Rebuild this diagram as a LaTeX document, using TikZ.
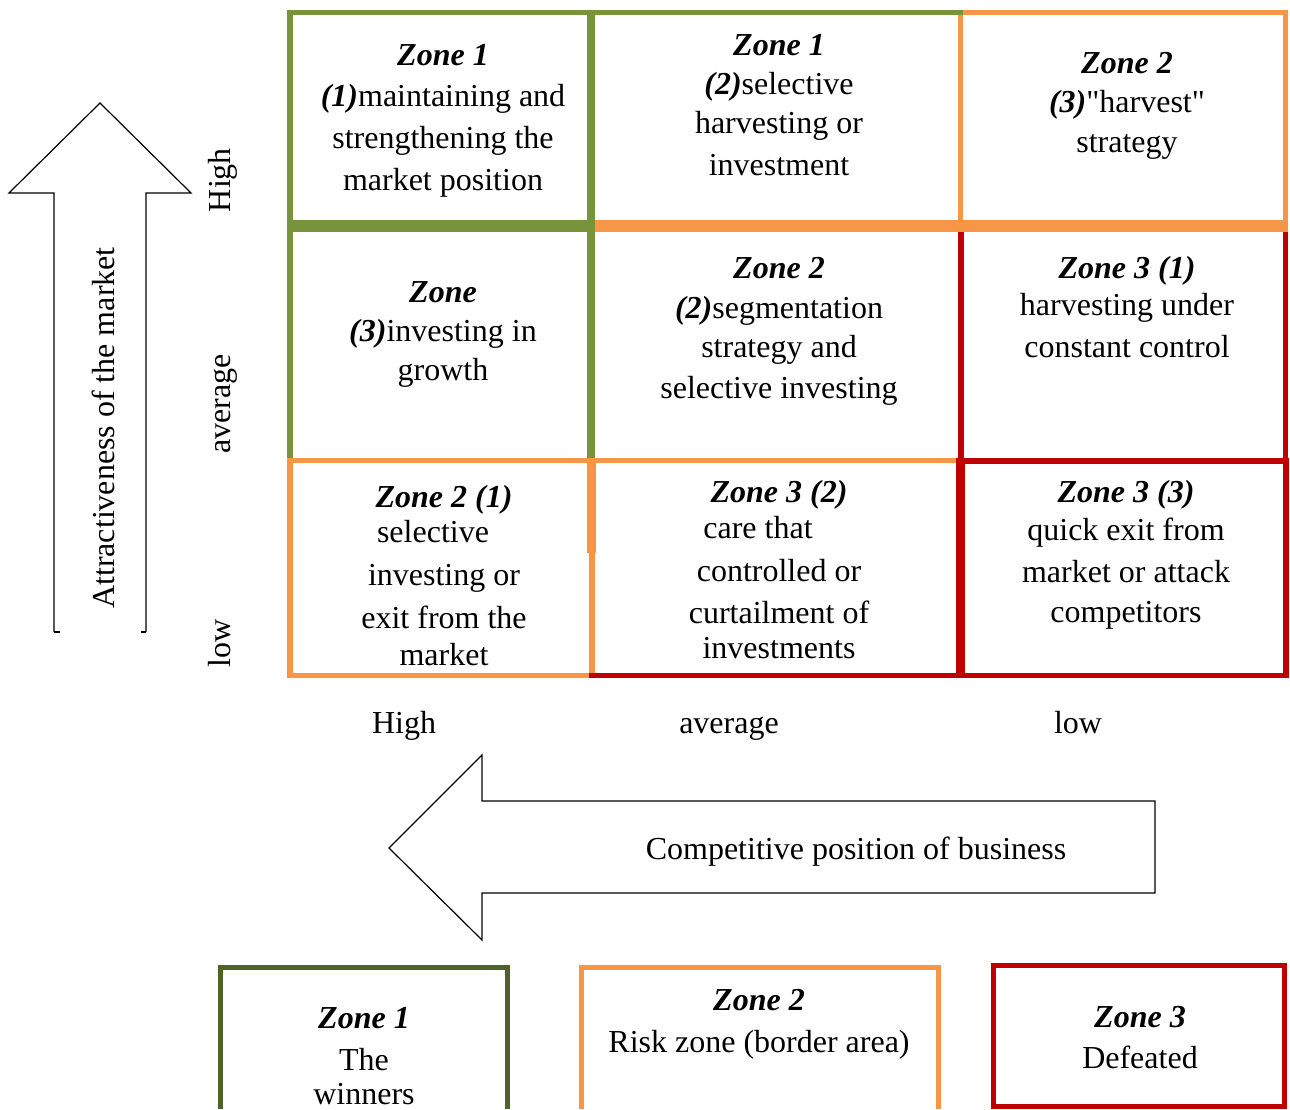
\documentclass[tikz,border=0pt]{standalone}
\usepackage{fontspec}
\setmainfont{Liberation Serif}
% same family without TeX ligature mapping, so that " stays a straight quote
\newfontfamily\rawserif{Liberation Serif}
\definecolor{zgreen}{HTML}{77933C}
\definecolor{zorange}{HTML}{F79646}
\definecolor{zred}{HTML}{C00000}
\definecolor{zdark}{HTML}{4F6228}
\newcommand{\zh}[1]{\textbf{\textit{#1}}}

\begin{document}
\begin{tikzpicture}[x=1pt,y=-1pt,
  lbl/.style={font=\fontsize{32}{38}\selectfont, inner sep=0pt, anchor=base},
  vlbl/.style={lbl, rotate=90},
  outline/.style={draw=black, line width=1.2pt, line join=miter},
  gline/.style={draw=zgreen},
  oline/.style={draw=zorange},
  rline/.style={draw=zred}]

\fill[white] (0,0) rectangle (1290,1109);
\useasboundingbox (0,0) rectangle (1290,1109);

% ---------- matrix borders ----------
% orange segments
\draw[oline, line width=5pt]  (963,12.5) -- (1288,12.5);
\draw[oline, line width=5pt]  (960.5,15) -- (960.5,226);
\draw[oline, line width=5pt]  (1285.5,15) -- (1285.5,226);
\draw[oline, line width=12pt] (595,226) -- (1288,226);
\draw[oline, line width=5.5pt] (287,460.5) -- (957,460.5);
\draw[oline, line width=6pt]  (290,458) -- (290,678);
\draw[oline, line width=9pt]  (591.5,458) -- (591.5,553);
\draw[oline, line width=6pt]  (592,553) -- (592,673);
\draw[oline, line width=5pt]  (287,675.5) -- (589,675.5);
% red segments
\draw[rline, line width=6pt]  (960.5,232) -- (960.5,458);
\draw[rline, line width=5pt]  (1285.5,232) -- (1285.5,458);
\draw[rline, line width=6pt]  (957,461) -- (1289,461);
\draw[rline, line width=9pt]  (960.5,458) -- (960.5,678);
\draw[rline, line width=6pt]  (1286,458) -- (1286,678);
\draw[rline, line width=5pt]  (589,675.5) -- (1289,675.5);
% green segments
\draw[gline, line width=5pt]  (287,12.5) -- (963,12.5);
\draw[gline, line width=6pt]  (290,10) -- (290,458);
\draw[gline, line width=8pt]  (591,10) -- (591,458);
\draw[gline, line width=12pt] (287,226) -- (595,226);

% ---------- cell texts ----------
% row 1
\node[lbl] (c11a) at (443,65)  {\zh{Zone 1}};
\node[lbl] (c11b) at (443,106) {\zh{(1)}maintaining and};
\node[lbl] (c11c) at (443,148) {strengthening the};
\node[lbl] (c11d) at (443,190) {market position};

\node[lbl] (c12a) at (779,55)  {\zh{Zone 1}};
\node[lbl] (c12b) at (779,94)  {\zh{(2)}selective};
\node[lbl] (c12c) at (779,133) {harvesting or};
\node[lbl] (c12d) at (779,175) {investment};

\node[lbl] (c13a) at (1127,73)  {\zh{Zone 2}};
\node[lbl] (c13b) at (1127,112) {\rawserif\zh{(3)}"harvest"};
\node[lbl] (c13c) at (1127,152) {strategy};

% row 2
\node[lbl] (c21a) at (443,302) {\zh{Zone}};
\node[lbl] (c21b) at (443,341) {\zh{(3)}investing in};
\node[lbl] (c21c) at (443,380) {growth};

\node[lbl] (c22a) at (779,278) {\zh{Zone 2}};
\node[lbl] (c22b) at (779,318) {\zh{(2)}segmentation};
\node[lbl] (c22c) at (779,357) {strategy and};
\node[lbl] (c22d) at (779,398) {selective investing};

\node[lbl] (c23a) at (1127,278) {\zh{Zone 3 (1)}};
\node[lbl] (c23b) at (1127,315) {harvesting under};
\node[lbl] (c23c) at (1127,357) {constant control};

% row 3
\node[lbl] (c31a) at (444,507) {\zh{Zone 2 (1)}};
\node[lbl] (c31b) at (433,542) {selective};
\node[lbl] (c31c) at (444,585) {investing or};
\node[lbl] (c31d) at (444,628) {exit from the};
\node[lbl] (c31e) at (444,665) {market};

\node[lbl] (c32a) at (779,502) {\zh{Zone 3 (2)}};
\node[lbl] (c32b) at (758,538) {care that};
\node[lbl] (c32c) at (779,581) {controlled or};
\node[lbl] (c32d) at (779,623) {curtailment of};
\node[lbl] (c32e) at (779,658) {investments};

\node[lbl] (c33a) at (1126,502) {\zh{Zone 3 (3)}};
\node[lbl] (c33b) at (1126,540) {quick exit from};
\node[lbl] (c33c) at (1126,582) {market or attack};
\node[lbl] (c33d) at (1126,622) {competitors};

% ---------- vertical axis ----------
\draw[outline] (54,632) -- (54,193) -- (9,193) -- (100,103) -- (191,193) -- (146,193) -- (146,632);
\draw[outline] (54,632) -- (60,632) (146,632) -- (141,632);
\node[vlbl] (attr) at (114,428) {Attractiveness of the market};
\node[vlbl] (yhigh) at (230,180) {High};
\node[vlbl] (yavg)  at (230,404) {average};
\node[vlbl] (ylow)  at (230,643) {low};

% ---------- horizontal axis ----------
\node[lbl] (xhigh) at (404,733)  {High};
\node[lbl] (xavg)  at (729,733)  {average};
\node[lbl] (xlow)  at (1078,733) {low};
\draw[outline] (1155,801) -- (482,801) -- (482,755) -- (389,848) -- (482,940) -- (482,893) -- (1155,893) -- cycle;
\node[lbl] (comp) at (856,859) {Competitive position of business};

% ---------- legend ----------
\draw[draw=zdark, line width=5pt] (220.5,1109) -- (220.5,967.5) -- (507,967.5) -- (507,1109);
\node[lbl] (l1a) at (364,1028) {\zh{Zone 1}};
\node[lbl] (l1b) at (364,1070) {The};
\node[lbl] (l1c) at (364,1104) {winners};

\draw[draw=zorange, line width=5pt] (581,1109) -- (581,967.5) -- (938,967.5) -- (938,1109);
\node[lbl] (l2a) at (759,1010) {\zh{Zone 2}};
\node[lbl] (l2b) at (759,1052) {Risk zone (border area)};

\draw[draw=zred, line width=5pt] (993,965.5) rectangle (1284,1106);
\node[lbl] (l3a) at (1140,1027) {\zh{Zone 3}};
\node[lbl] (l3b) at (1140,1068) {Defeated};

\end{tikzpicture}
\end{document}
